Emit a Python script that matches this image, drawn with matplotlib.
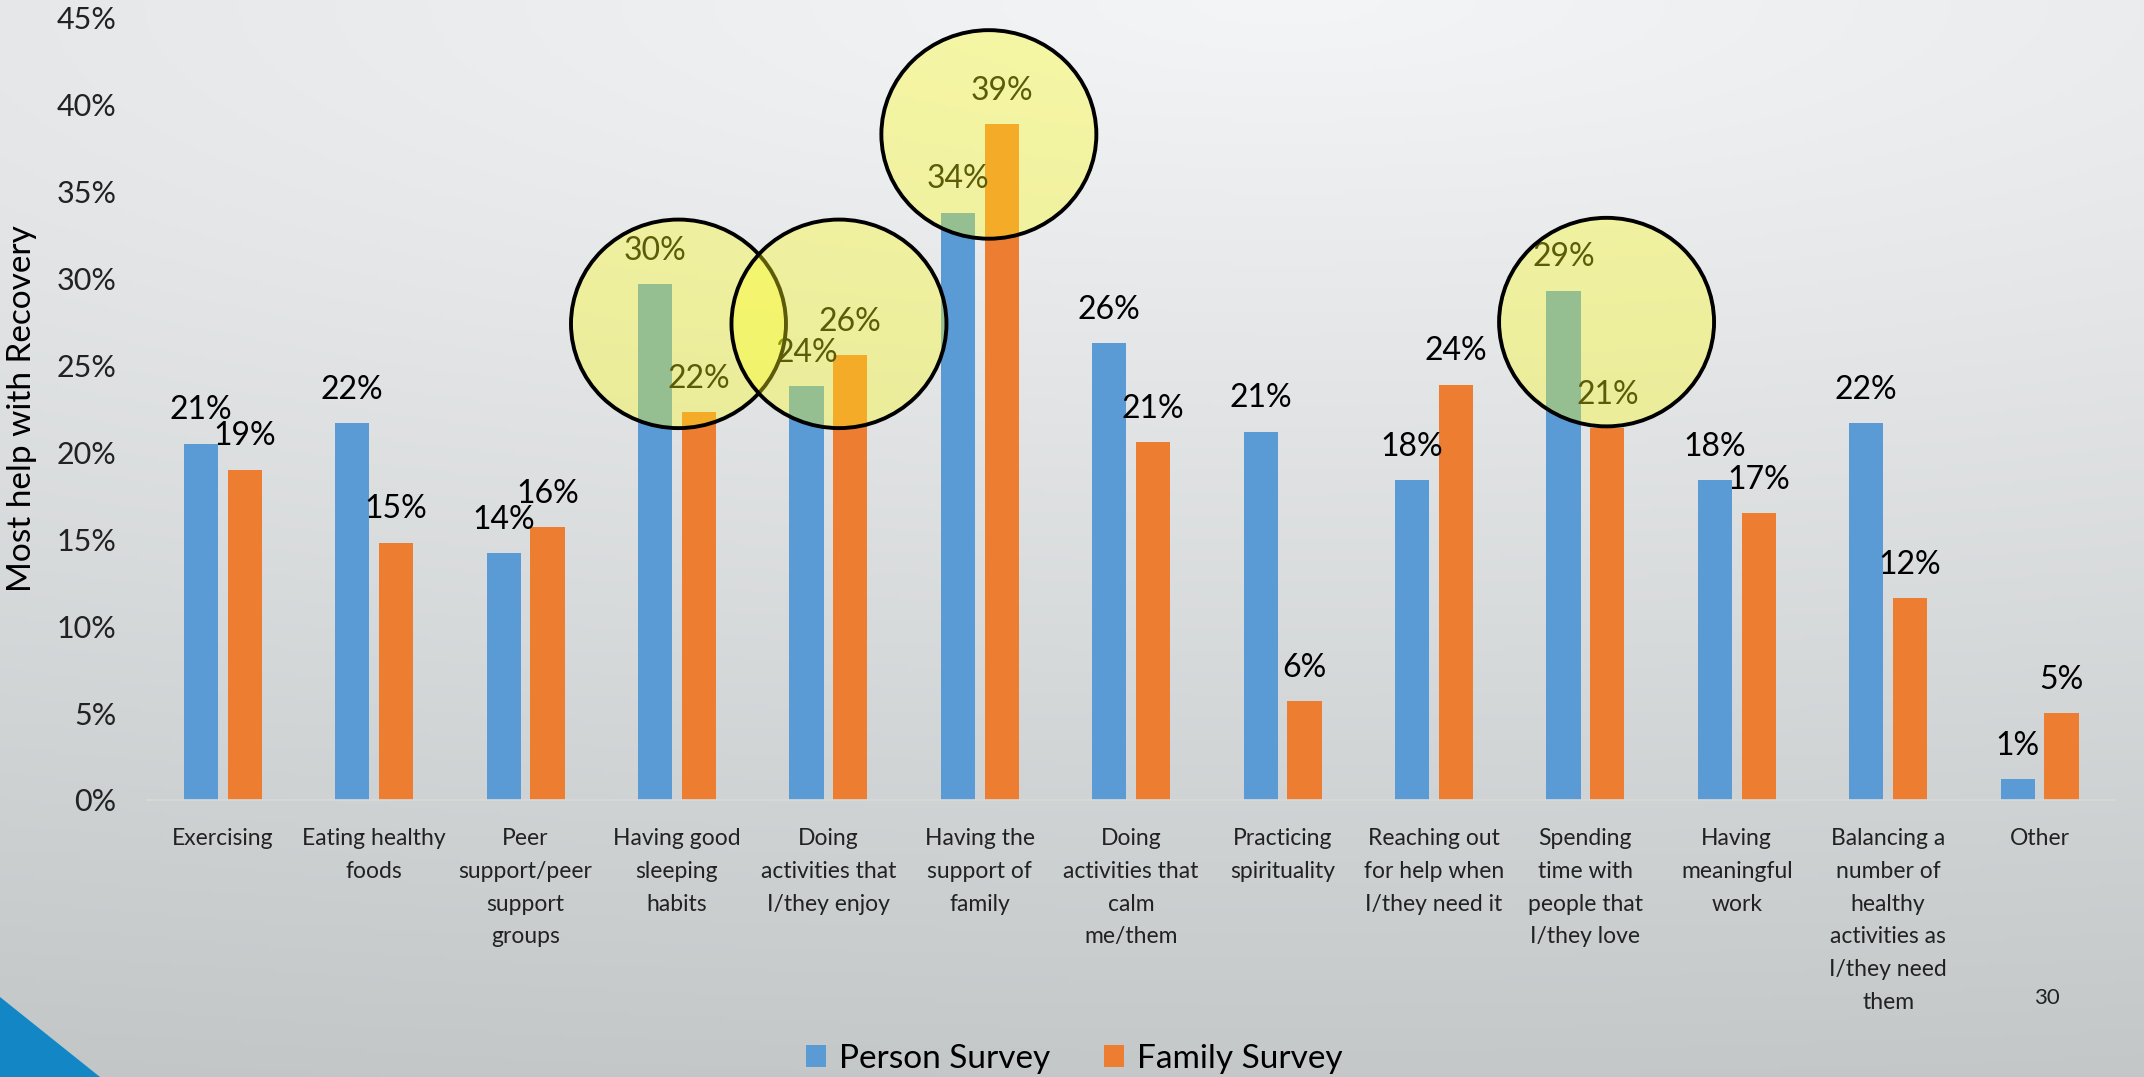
#!/usr/bin/env python3
#
# Grouped bar chart: what helps most with recovery (person vs family survey)
#

import numpy as np
import matplotlib
matplotlib.use('Agg')
import matplotlib.pyplot as plt
from matplotlib.patches import Ellipse, Polygon, Patch

# Categories on the x axis
categories = [
  'Exercising',
  'Eating healthy\nfoods',
  'Peer\nsupport/peer\nsupport\ngroups',
  'Having good\nsleeping\nhabits',
  'Doing\nactivities that\nI/they enjoy',
  'Having the\nsupport of\nfamily',
  'Doing\nactivities that\ncalm\nme/them',
  'Practicing\nspirituality',
  'Reaching out\nfor help when\nI/they need it',
  'Spending\ntime with\npeople that\nI/they love',
  'Having\nmeaningful\nwork',
  'Balancing a\nnumber of\nhealthy\nactivities as\nI/they need\nthem',
  'Other',
]

# Percent of respondents
person_survey = [20.5, 21.7, 14.2, 29.7, 23.8, 33.8, 26.3, 21.2, 18.4, 29.3, 18.4, 21.7, 1.2]
family_survey = [19.0, 14.8, 15.7, 22.3, 25.6, 38.9, 20.6, 5.7, 23.9, 21.4, 16.5, 11.6, 5.0]

# Labels printed above the bars
person_labels = ['21%', '22%', '14%', '30%', '24%', '34%', '26%', '21%', '18%', '29%', '18%', '22%', '1%']
family_labels = ['19%', '15%', '16%', '22%', '26%', '39%', '21%', '6%', '24%', '21%', '17%', '12%', '5%']

series_names = ['Person Survey', 'Family Survey']
y_ticks = [0, 5, 10, 15, 20, 25, 30, 35, 40, 45]

# Highlight circles: (x in category units, y in percent)
highlights = [(3.01, 27.4), (4.07, 27.4), (5.06, 38.3), (9.14, 27.5)]

BLUE = '#5b9bd5'
ORANGE = '#ed7d31'
FONT = ['Lato', 'DejaVu Sans']

def draw_background(fig):
  # Light radial-ish grey gradient over the whole slide
  bg = fig.add_axes([0, 0, 1, 1], zorder=-10)
  h, w = 300, 600
  yy, xx = np.mgrid[0:h, 0:w]
  fx = xx / (w - 1)
  fy = yy / (h - 1)
  t = np.sqrt((0.5 * (fx - 0.6)) ** 2 + fy ** 2)
  t = np.clip(t, 0, 1.1)
  light = np.array([244, 245, 247]) / 255.0
  dark = np.array([196, 200, 201]) / 255.0
  img = light[None, None, :] + (dark - light)[None, None, :] * t[:, :, None]
  img = np.clip(img, 0, 1)
  bg.imshow(img, aspect='auto', extent=[0, 1, 0, 1], origin='upper')
  bg.set_xlim(0, 1)
  bg.set_ylim(0, 1)
  bg.axis('off')
  # Blue corner triangle at the bottom left
  tri = Polygon([(0, 1 - 997 / 1077), (100 / 2144, 0), (0, 0)], closed=True,
                transform=fig.transFigure, facecolor='#1387c6', edgecolor='none')
  fig.patches.append(tri)

def main():
  plt.rcParams['font.family'] = FONT

  fig = plt.figure(figsize=(21.44, 10.77), dpi=100)
  draw_background(fig)

  ax = fig.add_axes([0.0686, 0.2572, 0.918, 0.7261])
  ax.set_facecolor('none')

  x = np.arange(len(categories))
  BAR_WIDTH = 0.226
  OFFSET = 0.145

  ax.bar(x - OFFSET, person_survey, width=BAR_WIDTH, color=BLUE, zorder=2)
  ax.bar(x + OFFSET, family_survey, width=BAR_WIDTH, color=ORANGE, zorder=2)

  # Data labels
  for xi, v, lab in zip(x - OFFSET, person_survey, person_labels):
    ax.annotate(lab, (xi, v), xytext=(0, 24), textcoords='offset points',
                ha='center', va='center', fontsize=23, color='black', zorder=4)
  for xi, v, lab in zip(x + OFFSET, family_survey, family_labels):
    ax.annotate(lab, (xi, v), xytext=(0, 24), textcoords='offset points',
                ha='center', va='center', fontsize=23, color='black', zorder=4)

  # Yellow highlight circles on top of everything
  for cx, cy in highlights:
    e = Ellipse((cx, cy), width=1.42, height=12.0,
                facecolor=(1.0, 1.0, 0.1, 0.36), edgecolor='black',
                linewidth=2.8, zorder=6, clip_on=False)
    ax.add_patch(e)

  ax.set_xlim(-0.5, len(categories) - 0.5)
  ax.set_ylim(0, 45)
  ax.set_yticks(y_ticks)
  ax.set_yticklabels(['{}%'.format(t) for t in y_ticks], fontsize=22, color='#222222')
  ax.set_xticks(x)
  ax.set_xticklabels(categories, fontsize=16.5, color='#222222', linespacing=1.7)
  ax.tick_params(axis='both', length=0)
  ax.tick_params(axis='x', pad=20)
  ax.tick_params(axis='y', pad=22)

  for side in ['top', 'right', 'left']:
    ax.spines[side].set_visible(False)
  ax.spines['bottom'].set_color('#d9d9d9')
  ax.spines['bottom'].set_linewidth(1.2)

  ax.set_ylabel('Most help with Recovery', fontsize=24, color='black')
  ax.yaxis.set_label_coords(-0.056, 0.5)

  # Legend below the chart
  handles = [Patch(facecolor=BLUE, edgecolor='none'), Patch(facecolor=ORANGE, edgecolor='none')]
  fig.legend(handles, series_names, loc='center', bbox_to_anchor=(0.501, 0.017), ncol=2,
             frameon=False, fontsize=24, handlelength=0.6, handleheight=0.6,
             handletextpad=0.4, columnspacing=1.6)

  # Slide number
  fig.text(2047 / 2144, 1 - 998 / 1077, '30', fontsize=16, color='#222222',
           ha='center', va='center')

  fig.savefig('out.png', dpi=100)
  plt.close(fig)

if __name__ == '__main__':
  main()
